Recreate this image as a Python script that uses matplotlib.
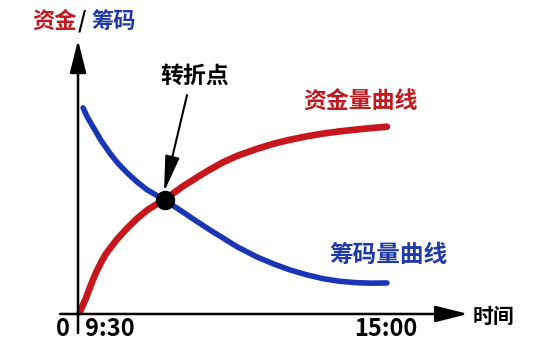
import numpy as np
import matplotlib
matplotlib.use('Agg')
import matplotlib.pyplot as plt

plt.rcParams['font.family'] = ['Noto Sans CJK SC', 'DejaVu Sans']

# minutes after 9:30 (15:00 -> 330), amount in arbitrary units 0..100
red_t = [2, 5, 8.6, 12, 16, 20, 24.6, 29, 34, 42, 52.5, 63, 74, 84, 93, 103, 112.5, 122,
         131, 143, 155, 170, 192, 210, 227, 245, 262.5, 280, 299, 315, 331]
red_v = [0.9, 4, 7.5, 11.5, 16, 20, 24, 27.5, 30.5, 35, 40, 44.5, 48.5, 51.2, 53.5, 56.7,
         59.7, 62.3, 64.8, 67.9, 70.8, 73.8, 77.2, 79.6, 81.4, 83, 84.3, 85.3, 86.2, 86.9, 87.5]
blue_t = [5.4, 10, 16, 24, 34, 43, 52.5, 63, 74, 84, 93, 103, 112.5, 122, 131, 143, 155,
          170, 192, 210, 227, 245, 262.5, 280, 299, 315, 331]
blue_v = [96.3, 92, 87.5, 81.5, 75.2, 70.3, 66, 61.8, 58, 55.5, 53.4, 50.3, 47.6, 44.8,
          42.2, 38.8, 35.6, 31.5, 26.6, 23.3, 20.6, 18.3, 16.5, 15.3, 14.6, 14.4, 14.5]
turn_t, turn_v = 93, 53.4

tick_labels = ['0', '9:30', '15:00']
title_parts = ['资金', '/', '筹码']
red_label = '资金量曲线'
blue_label = '筹码量曲线'
turn_label = '转折点'
x_label = '时间'

RED = '#c8161d'
BLUE = '#1a35b5'
W, H = 554, 357

fig = plt.figure(figsize=(W / 100, H / 100), dpi=100)
ax = fig.add_axes([0, 0, 1, 1])
ax.set_xlim(-83.6, 510)
ax.set_ylim(-20.1, 146.7)
ax.axis('off')


def px(x, y):
    return x / W, 1 - y / H


# axes with arrow heads
arrow = dict(arrowstyle='-|>,head_length=1.0,head_width=0.25', mutation_scale=20,
             color='black', lw=1.8, shrinkA=0, shrinkB=0)
ax.annotate('', xy=(0, 128), xytext=(0, -8.9), arrowprops=arrow)
ax.annotate('', xy=(418, 0), xytext=(-19.3, 0), arrowprops=arrow)

# curves
ax.plot(red_t, red_v, color=RED, lw=4.8, solid_capstyle='round', solid_joinstyle='round')
ax.plot(blue_t, blue_v, color=BLUE, lw=4.0, solid_capstyle='round', solid_joinstyle='round')
ax.plot([turn_t], [turn_v], 'o', color='black', ms=13, zorder=5)

# turning point arrow
ax.annotate('', xy=(92.1, 57), xytext=(116.8, 102.3),
            arrowprops=dict(arrowstyle='-|>,head_length=1.1,head_width=0.22', mutation_scale=20,
                            color='black', lw=1.5, shrinkA=0, shrinkB=0))

# texts
fig.text(*px(32, 21), title_parts[0], color='#c0191f', fontsize=16, fontweight='bold',
         ha='left', va='center')
fig.text(*px(78, 21), title_parts[1], color='black', fontsize=16, fontweight='bold',
         ha='left', va='center')
fig.text(*px(92, 21), title_parts[2], color='#1f3aa8', fontsize=16, fontweight='bold',
         ha='left', va='center')
fig.text(*px(360, 102), red_label, color='#c0191f', fontsize=16.5, fontweight='bold',
         ha='center', va='center')
fig.text(*px(388, 255), blue_label, color='#1f3aa8', fontsize=17, fontweight='bold',
         ha='center', va='center')
fig.text(*px(195, 76), turn_label, color='black', fontsize=16.5, fontweight='bold',
         ha='center', va='center')
fig.text(*px(493, 316), x_label, color='black', fontsize=15, fontweight='bold',
         ha='center', va='center')
for lab, x in zip(tick_labels, [63, 110, 386]):
    fig.text(*px(x, 329), lab, color='black', fontsize=17, fontweight='bold',
             ha='center', va='center')

fig.savefig('out.png', dpi=100, facecolor='white')
